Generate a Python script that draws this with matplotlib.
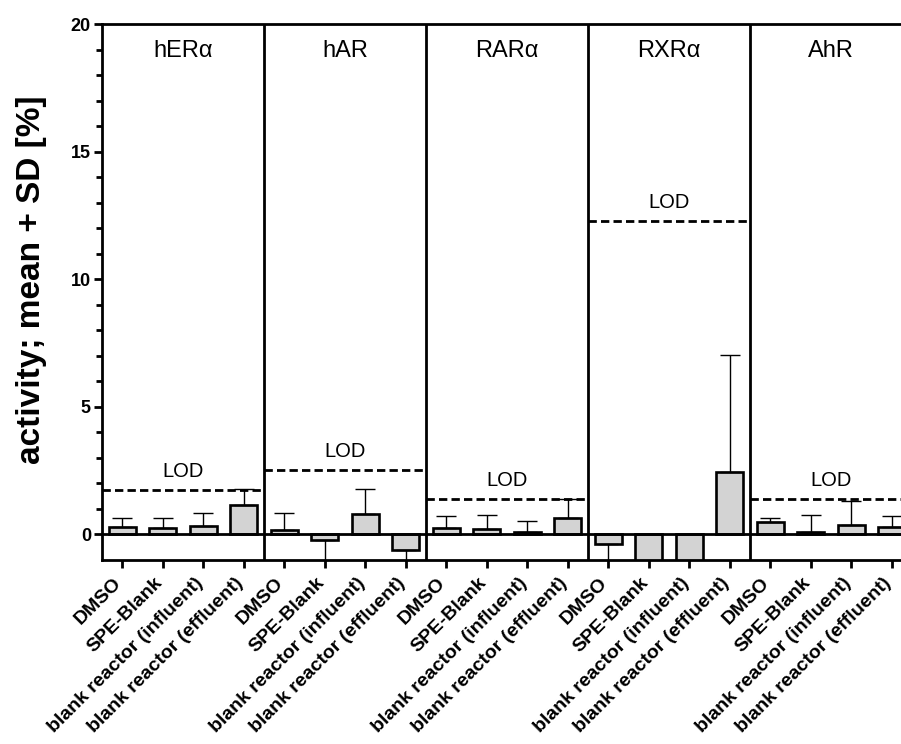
import matplotlib
matplotlib.use('Agg')  # Headless mode
import matplotlib.pyplot as plt
import numpy as np

plt.rcParams['font.family'] = ['Liberation Sans', 'DejaVu Sans']

# receptors (panels) and samples (bars inside each panel)
receptors = ['hERα', 'hAR', 'RARα', 'RXRα', 'AhR']
samples = ['DMSO', 'SPE-Blank', 'blank reactor (influent)', 'blank reactor (effluent)']

her_mean = [0.31, 0.26, 0.35, 1.16]
her_sd = [0.34, 0.40, 0.51, 0.61]
har_mean = [0.16, -0.22, 0.81, -0.59]
har_sd = [0.70, 1.00, 0.96, 0.80]
rar_mean = [0.27, 0.21, 0.08, 0.64]
rar_sd = [0.45, 0.57, 0.44, 0.75]
rxr_mean = [-0.36, -2.0, -2.0, 2.46]
rxr_sd = [1.00, 0.0, 0.0, 4.57]
ahr_mean = [0.47, 0.10, 0.37, 0.30]
ahr_sd = [0.18, 0.67, 0.96, 0.43]

lod = [1.76, 2.51, 1.39, 12.27, 1.39]

means = [her_mean, har_mean, rar_mean, rxr_mean, ahr_mean]
sds = [her_sd, har_sd, rar_sd, rxr_sd, ahr_sd]

fig = plt.figure(figsize=(9.01, 7.44), dpi=100)
# axes runs past the right edge like the cropped original
ax = fig.add_axes([0.1132, 0.2473, 0.899, 0.7204])

n = len(samples)
for i, rec in enumerate(receptors):
    x = np.arange(n) + i * n
    m = np.array(means[i])
    s = np.array(sds[i])
    ax.bar(x, m, width=0.66, color='#d3d3d3', edgecolor='black', linewidth=1.9, zorder=2)
    # one-sided error bars, pointing away from zero
    lower = np.where(m < 0, s, 0)
    upper = np.where(m >= 0, s, 0)
    ax.errorbar(x, m, yerr=[lower, upper], fmt='none', ecolor='black',
                elinewidth=1, capsize=7, capthick=1, zorder=3)
    # LOD line and label
    x0, x1 = i * n - 0.5, i * n + n - 0.5
    ax.hlines(lod[i], x0, x1, colors='black', linestyles=(0, (3, 1.5)), linewidth=2, zorder=3)
    ax.text((x0 + x1) / 2, lod[i] + 0.35, 'LOD', ha='center', va='bottom', fontsize=14.5)
    ax.text((x0 + x1) / 2, 18.95, rec, ha='center', va='center', fontsize=17)
    if i > 0:
        ax.axvline(x0, color='black', linewidth=2, zorder=4)

ax.axhline(0, color='black', linewidth=2, zorder=4)

ax.set_xlim(-0.5, len(receptors) * n - 0.5)
ax.set_ylim(-1, 20)
ax.set_yticks([0, 5, 10, 15, 20])
ax.set_yticks([v for v in range(1, 20) if v % 5 != 0], minor=True)
ax.set_xticks(np.arange(len(receptors) * n))
ax.set_xticklabels(samples * len(receptors), rotation=45, ha='right', va='baseline',
                   rotation_mode='anchor', fontsize=14, fontweight='bold')
for lbl in ax.get_yticklabels():
    lbl.set_fontweight('bold')
ax.tick_params(axis='y', which='major', length=6, width=2, labelsize=13, pad=2)
ax.tick_params(axis='y', which='minor', length=4, width=2)
ax.tick_params(axis='x', length=6, width=2, pad=11)

for sp in ax.spines.values():
    sp.set_linewidth(2)

ax.set_ylabel('activity; mean + SD [%]', fontsize=24, fontweight='bold')
ax.yaxis.set_label_coords(-0.068, 0.522)

fig.savefig('out.png', dpi=100, facecolor='white')
plt.close(fig)
